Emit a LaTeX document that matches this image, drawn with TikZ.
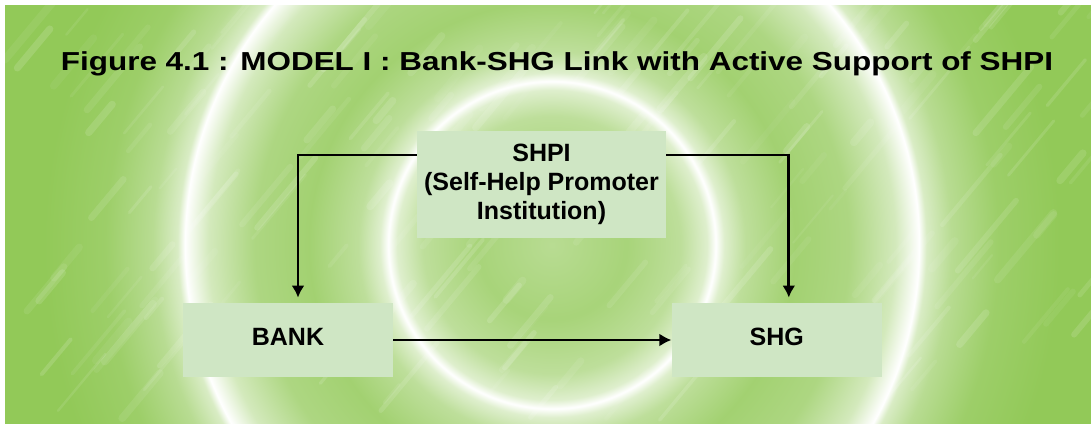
\documentclass[tikz,border=0pt]{standalone}
\usepackage{fontspec}
\setmainfont{Liberation Sans}
\usetikzlibrary{positioning,arrows.meta}
\tikzset{>={Latex[length=6pt,width=6.5pt]}}
\definecolor{leafgreen}{RGB}{146,201,88}
\definecolor{boxgreen}{RGB}{207,230,196}
\pgfdeclareradialshading{ringglow}{\pgfpoint{0bp}{0bp}}{%
  color(0bp)=(leafgreen!65!white); color(3bp)=(leafgreen!80!white);
  color(5.2bp)=(leafgreen!60!white); color(6.25bp)=(leafgreen!30!white);
  color(6.6bp)=(white); color(6.95bp)=(leafgreen!30!white);
  color(7.8bp)=(leafgreen!60!white); color(9.8bp)=(leafgreen!85!white);
  color(12bp)=(leafgreen!75!white); color(13.85bp)=(leafgreen!40!white);
  color(14.8bp)=(white); color(15.1bp)=(leafgreen!35!white);
  color(16.1bp)=(leafgreen!65!white); color(18bp)=(leafgreen!90!white);
  color(20.5bp)=(leafgreen); color(50bp)=(leafgreen)}
\tikzset{
  block/.style={fill=boxgreen, font=\bfseries\fontsize{12.5}{14.5}\selectfont, align=center, inner sep=0pt},
  link/.style={->, line width=1.4pt},
}

\begin{document}
\begin{tikzpicture}[x=0.5pt,y=-0.5pt]
  \useasboundingbox (0,0) rectangle (1091,423);
  % backdrop with rings
  \fill[white] (0,0) rectangle (1091,423);
  \begin{scope}
    \clip (5,5) rectangle (1091,423);
    \shade[shading=ringglow] (552,245) circle (620);
    \pgfmathsetseed{7}
    \foreach \i in {1,...,180}{
      \pgfmathsetmacro{\sx}{5+1086*rnd}
      \pgfmathsetmacro{\sy}{5+418*rnd}
      \pgfmathsetmacro{\sl}{15+45*rnd}
      \pgfmathsetmacro{\sw}{1+3*rnd}
      \pgfmathsetmacro{\so}{0.04+0.1*rnd}
      \draw[white, opacity=\so, line width=\sw pt, line cap=round] (\sx,\sy) -- ++(\sl,-1.2*\sl);
    }
  \end{scope}

  \node[anchor=base, xscale=1.21, font=\bfseries\fontsize{13}{16}\selectfont] (title) at (557,70) {Figure 4.1 : MODEL I : Bank-SHG Link with Active Support of SHPI};

  \node[block, minimum width=124.5pt, minimum height=53.5pt] (shpi) at (541.5,184.5) {SHPI\\(Self-Help Promoter\\Institution)};
  \node[block, minimum width=105pt, minimum height=37pt] (bank) at (288,340) {\raisebox{3.5pt}{BANK}};
  \node[block, minimum width=105pt, minimum height=37pt, right=139pt of bank] (shg) {\raisebox{3.5pt}{SHG}};

  \draw[link, shorten >=2.5pt] ([yshift=14.75pt]shpi.west) -| ([xshift=5pt]bank.north);
  \draw[link, shorten >=2.5pt] ([yshift=14.75pt]shpi.east) -| ([xshift=6pt]shg.north);
  \draw[link] (bank) -- (shg);
\end{tikzpicture}
\end{document}
